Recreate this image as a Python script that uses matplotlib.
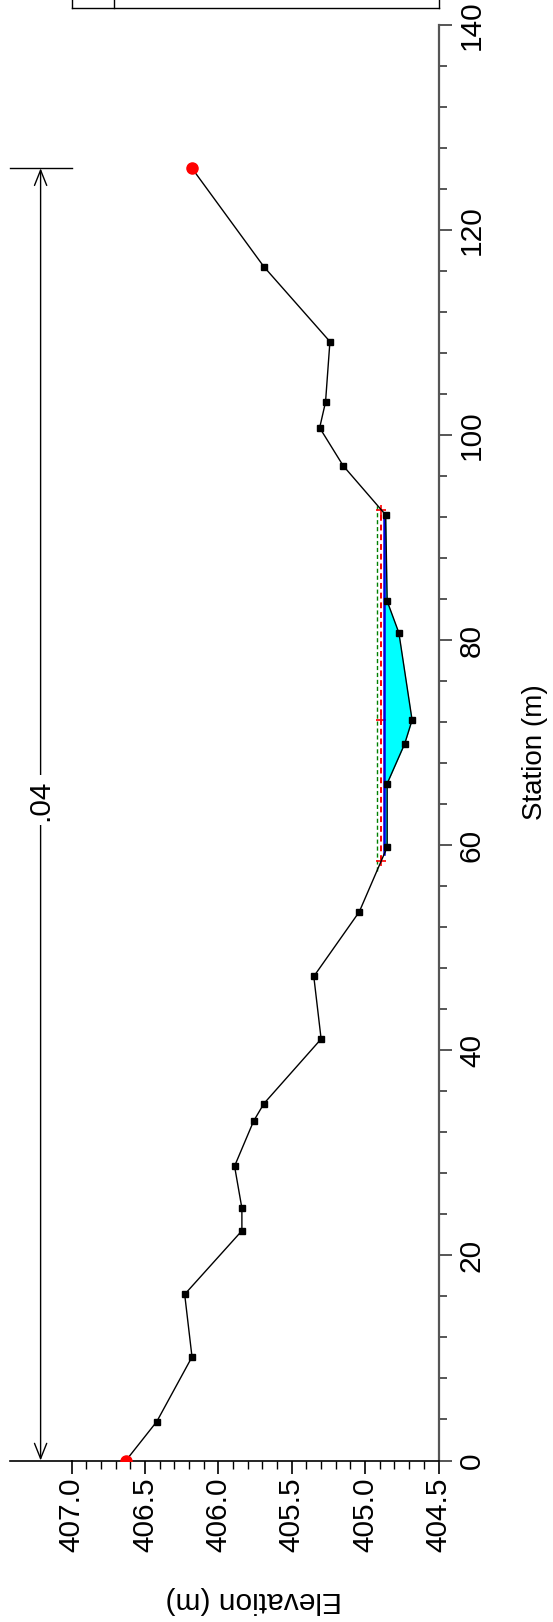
import matplotlib
matplotlib.use('Agg')
import matplotlib.pyplot as plt
import numpy as np
from matplotlib.lines import Line2D
from matplotlib.ticker import MultipleLocator, FixedLocator

plt.rcParams['font.family'] = ['Liberation Sans', 'DejaVu Sans']

# ---- data ----
station = [0, 3.8, 10.1, 16.2, 22.4, 24.6, 28.7, 33.1, 34.8, 41.1, 47.2, 53.5,
           59.8, 66.0, 69.9, 72.2, 80.7, 83.8, 92.2, 97.0, 100.7, 103.2, 109.1,
           116.4, 126.0]
elevation = [406.63, 406.42, 406.18, 406.23, 405.84, 405.84, 405.89, 405.76,
             405.69, 405.30, 405.35, 405.04, 404.85, 404.85, 404.73, 404.68,
             404.77, 404.85, 404.86, 405.15, 405.31, 405.27, 405.24, 405.69,
             406.18]
ws_elev = 404.87     # water surface
crit_elev = 404.89   # red dashed
eg_elev = 404.92     # green dashed
n_label = '.04'
elev_ticks = [407.0, 406.5, 406.0, 405.5, 405.0, 404.5]
station_ticks = [0, 20, 40, 60, 80, 100, 120, 140]

W, H = 553, 1622
FS = 21.5
fig = plt.figure(figsize=(W / 100, H / 100), dpi=100)
ax_l, ax_r = 71.7, 438.5
ax_t, ax_b = 24.7, 1460.5
ax = fig.add_axes([ax_l / W, (H - ax_b) / H, (ax_r - ax_l) / W, (ax_b - ax_t) / H])

st = np.array(station)
el = np.array(elevation)


def crossings(level):
    imin = int(np.argmin(el))
    i = imin
    while el[i - 1] <= level:
        i -= 1
    sL = np.interp(level, [el[i], el[i - 1]], [st[i], st[i - 1]])
    j = imin
    while el[j + 1] <= level:
        j += 1
    sR = np.interp(level, [el[j], el[j + 1]], [st[j], st[j + 1]])
    return sL, sR, i, j, imin


# water fill
sL, sR, i, j, imin = crossings(ws_elev)
poly_s = np.concatenate([[sL], st[i:j + 1], [sR]])
poly_e = np.concatenate([[ws_elev], el[i:j + 1], [ws_elev]])
ax.fill_betweenx(poly_s, poly_e, ws_elev, color='#00ffff', lw=0, zorder=1)

# green dashed
gL, gR, *_ = crossings(eg_elev)
ax.plot([eg_elev, eg_elev], [gL, gR], color='#008000', lw=1.0, ls=(0, (3, 2)), zorder=2)
# red dashed with + markers
rL, rR, *_ = crossings(crit_elev)
ax.plot([crit_elev] * 3, [rL, st[imin], rR], color='red', lw=1.4, ls=(0, (3, 2)),
        marker='+', ms=7, mew=1.2, zorder=3)
# blue water surface
ax.plot([ws_elev, ws_elev], [sL, sR], color='#0000e0', lw=1.8, zorder=4)

# ground
ax.plot(el, st, color='black', lw=1.0, zorder=5)
ax.plot(el[1:-1], st[1:-1], ls='none', marker='s', ms=5, color='black', zorder=6)
ax.plot([el[0], el[-1]], [st[0], st[-1]], ls='none', marker='o', ms=8,
        color='red', mec='red', zorder=7)

ax.set_xlim(407.0, 404.5)
ax.set_ylim(0, 140)

for s in ['top', 'left']:
    ax.spines[s].set_visible(False)
ax.spines['right'].set_color('#555555')
ax.spines['right'].set_linewidth(1.6)
ax.spines['bottom'].set_color('black')
ax.spines['bottom'].set_linewidth(1.2)

ax.xaxis.set_major_locator(FixedLocator(elev_ticks))
ax.set_xticklabels(['%.1f' % v for v in elev_ticks])
ax.xaxis.set_minor_locator(MultipleLocator(0.1))
ax.yaxis.set_major_locator(FixedLocator(station_ticks))
ax.set_yticklabels([str(v) for v in station_ticks])
ax.yaxis.set_minor_locator(MultipleLocator(4))

ax.tick_params(axis='x', which='major', direction='out', length=9, width=1.2,
               pad=3, labelsize=FS, labelrotation=90, colors='black')
ax.tick_params(axis='x', which='minor', direction='out', length=5.5, width=1.0)
ax.tick_params(axis='y', which='both', left=False, right=True, labelleft=False,
               labelright=True)
ax.tick_params(axis='y', which='major', direction='out', length=9, width=1.4,
               pad=5, labelsize=FS, labelrotation=90, color='#555555')
ax.tick_params(axis='y', which='minor', direction='out', length=5.8, width=1.4,
               color='#555555')
for t in ax.get_yticklabels():
    t.set_va('center')

ax.set_xlabel('Elevation (m)', fontsize=FS, rotation=180)
ax.xaxis.label.set_ha('center')
ax.xaxis.label.set_va('center')
ax.xaxis.set_label_coords(0.497, -0.0972)
ax.yaxis.set_label_position('right')
ax.set_ylabel('Station (m)', fontsize=20, rotation=90)
ax.yaxis.label.set_rotation_mode('default')
ax.yaxis.label.set_ha('center')
ax.yaxis.label.set_va('center')
ax.yaxis.set_label_coords(1.262, 0.4935)

# Manning's n dimension annotation
px_per_m = (ax_r - ax_l) / 2.5
e_dim = 407.0 + (ax_l - 40.6) / px_per_m
e_edge = 407.0 + (ax_l - 9.5) / px_per_m
ax.annotate('', xy=(e_dim, st[-1]), xytext=(e_dim, st[0]),
            arrowprops=dict(arrowstyle='<->,head_length=0.55,head_width=0.22',
                            lw=1.0, color='black', shrinkA=0, shrinkB=0,
                            mutation_scale=20),
            annotation_clip=False, zorder=8)
ax.plot([e_edge, 407.0], [st[-1], st[-1]], color='black', lw=1.0, clip_on=False)
ax.plot([e_edge, 407.0], [st[0], st[0]], color='black', lw=1.2, clip_on=False)
ax.text(e_dim, 64.4, n_label, rotation=90, ha='center', va='center', fontsize=FS,
        bbox=dict(fc='white', ec='none', pad=3), clip_on=False, zorder=9)

# clipped legend box at the top
yb = 1 - 7.8 / H
for x0, x1, y0, y1 in [(ax_l, ax_r, yb, yb), (ax_l, ax_l, yb, 1.01),
                       (ax_r, ax_r, yb, 1.01), (114, 114, yb, 1.01)]:
    fig.add_artist(Line2D([x0 / W, x1 / W], [y0, y1], transform=fig.transFigure,
                          color='black', lw=1.0))

fig.savefig('out.png', dpi=100)
